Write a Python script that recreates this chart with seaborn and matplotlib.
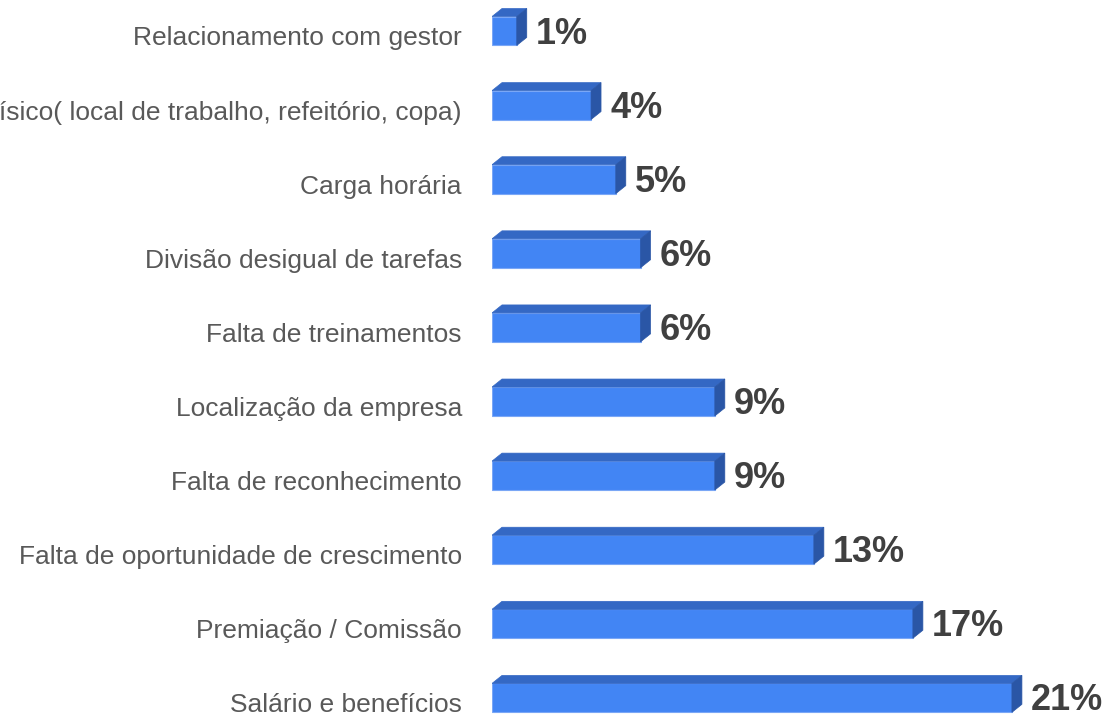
import numpy as np
import pandas as pd
import seaborn as sns
import matplotlib
matplotlib.use("Agg")
import matplotlib.pyplot as plt
from matplotlib.patches import Polygon
from matplotlib.transforms import ScaledTranslation

# Motivos de insatisfação (de cima para baixo) e percentual de respostas
categories = [
    "Relacionamento com gestor",
    "Espaço físico( local de trabalho, refeitório, copa)",
    "Carga horária",
    "Divisão desigual de tarefas",
    "Falta de treinamentos",
    "Localização da empresa",
    "Falta de reconhecimento",
    "Falta de oportunidade de crescimento",
    "Premiação / Comissão",
    "Salário e benefícios",
]
values = [1, 4, 5, 6, 6, 9, 9, 13, 17, 21]

FRONT = "#4285F4"
TOP = "#3468C4"
SIDE = "#2A56A6"
EDGE = "#7AA7F6"

sns.set_theme(style="white")
plt.rcParams["font.family"] = ["Liberation Sans", "DejaVu Sans"]

W_PX, H_PX = 1106, 719
fig = plt.figure(figsize=(W_PX / 100, H_PX / 100), dpi=100)
ax_left, ax_w = 492, 614
ax = fig.add_axes([ax_left / W_PX, 0, ax_w / W_PX, 1])

df = pd.DataFrame({"motivo": categories, "pct": values})
sns.barplot(data=df, x="pct", y="motivo", orient="h", width=0.39,
            color=FRONT, saturation=1, edgecolor=EDGE, linewidth=0.8,
            ax=ax, zorder=3)

xmax = 24.8
ylo, yhi = -0.418, 9.285
ax.set_xlim(0, xmax)
ax.set_ylim(yhi, ylo)

# bar depth in pixels, converted to data units
dx = 10 * xmax / ax_w
dy = 8 * (yhi - ylo) / H_PX

for p in list(ax.patches):
    x0, w = p.get_x(), p.get_width()
    yt = min(p.get_y(), p.get_y() + p.get_height())
    yb = yt + abs(p.get_height())
    top = Polygon([(x0, yt), (x0 + w, yt), (x0 + w + dx, yt - dy), (x0 + dx, yt - dy)],
                  closed=True, facecolor=TOP, edgecolor=TOP, linewidth=0.5, zorder=3)
    side = Polygon([(x0 + w, yt), (x0 + w + dx, yt - dy), (x0 + w + dx, yb - dy), (x0 + w, yb)],
                   closed=True, facecolor=SIDE, edgecolor=SIDE, linewidth=0.5, zorder=3)
    ax.add_patch(top)
    ax.add_patch(side)

for i, v in enumerate(values):
    ax.annotate(f"{v}%", xy=(v, i), xytext=(13.7, -2.2), textcoords="offset points",
                ha="left", va="center", fontsize=26, fontweight="bold",
                color="#404040", annotation_clip=False)

ax.tick_params(axis="y", length=0, pad=21.6, labelsize=19, labelcolor="#595959")
shift = ScaledTranslation(0, -0.05, fig.dpi_scale_trans)
for lbl in ax.get_yticklabels():
    lbl.set_transform(lbl.get_transform() + shift)
    lbl.set_horizontalalignment("right")

ax.set_xticks([])
ax.set_xlabel("")
ax.set_ylabel("")
for s in ax.spines.values():
    s.set_visible(False)
ax.set_facecolor("white")
fig.patch.set_facecolor("white")

fig.savefig("out.png", dpi=100)
